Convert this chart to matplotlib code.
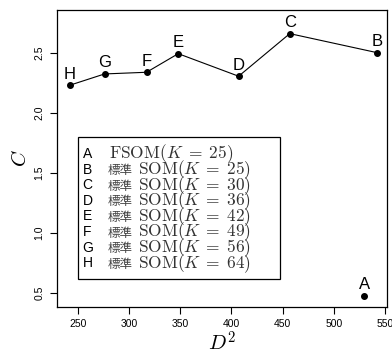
import matplotlib
matplotlib.use("Agg")
import matplotlib.pyplot as plt
from matplotlib.patches import Rectangle

plt.rcParams['mathtext.fontset'] = 'cm'
plt.rcParams['font.family'] = ['Liberation Sans', 'DejaVu Sans']

# points
labels = ['A', 'B', 'C', 'D', 'E', 'F', 'G', 'H']
d2 = [530, 542, 457, 407, 348, 317, 276, 242]
cval = [0.475, 2.503, 2.661, 2.306, 2.494, 2.339, 2.325, 2.231]
kvals = [25, 25, 30, 36, 42, 49, 56, 64]
prefixes = ['', '標準', '標準', '標準', '標準', '標準', '標準', '標準']
models = ['FSOM', 'SOM', 'SOM', 'SOM', 'SOM', 'SOM', 'SOM', 'SOM']

xticks = [250, 300, 350, 400, 450, 500, 550]
yticks = [0.5, 1.0, 1.5, 2.0, 2.5]

fig = plt.figure(figsize=(3.92, 3.54), dpi=100)
ax = fig.add_axes([0.1454, 0.1328, 0.8418, 0.839])

# line through the standard SOM points (B..H), sorted by D^2
line_pts = sorted(zip(d2[1:], cval[1:]))
ax.plot([p[0] for p in line_pts], [p[1] for p in line_pts], color='black', lw=0.8)
ax.plot(d2, cval, 'o', color='black', ms=4)

for lab, x, y in zip(labels, d2, cval):
    ax.annotate(lab, (x, y), xytext=(0, 2.5), textcoords='offset points',
                ha='center', va='bottom', fontsize=12)

ax.set_xlim(229.5, 552)
ax.set_ylim(0.383, 2.858)
ax.set_xticks(xticks)
ax.set_yticks(yticks)
ax.set_xticklabels([str(t) for t in xticks], fontsize=7.5)
ax.set_yticklabels([str(t) for t in yticks], fontsize=7.5, rotation=90, va='center')
ax.tick_params(direction='out', length=5, width=0.8, pad=4)
for s in ax.spines.values():
    s.set_linewidth(0.9)

ax.set_xlabel(r'$D^2$', fontsize=15, labelpad=1)
ax.set_ylabel(r'$C$', fontsize=15, labelpad=3)

# legend drawn by hand, R style
ax.add_patch(Rectangle((0.0627, 0.0933), 0.6131, 0.4781, transform=ax.transAxes,
                       fill=True, facecolor='white', edgecolor='black', lw=0.9, zorder=3))
row0 = (307 - 154) / 297
step = 15.6 / 297
for i, lab in enumerate(labels):
    y = row0 - i * step
    ax.text(0.0777, y, lab, transform=ax.transAxes, fontsize=10,
            ha='left', va='center', zorder=4)
    if prefixes[i]:
        ax.text(0.1545, y - 0.004, prefixes[i], transform=ax.transAxes, fontsize=9,
                family=['Noto Sans CJK JP', 'DejaVu Sans'], color='#444444',
                ha='left', va='center', zorder=4)
        xm = 0.2455
    else:
        xm = 0.158
    ax.text(xm, y, r'$\mathrm{%s}(K\;=\;%d)$' % (models[i], kvals[i]),
            transform=ax.transAxes, fontsize=12.5, color='#333333',
            ha='left', va='center', zorder=4)

fig.savefig('out.png', dpi=100)
